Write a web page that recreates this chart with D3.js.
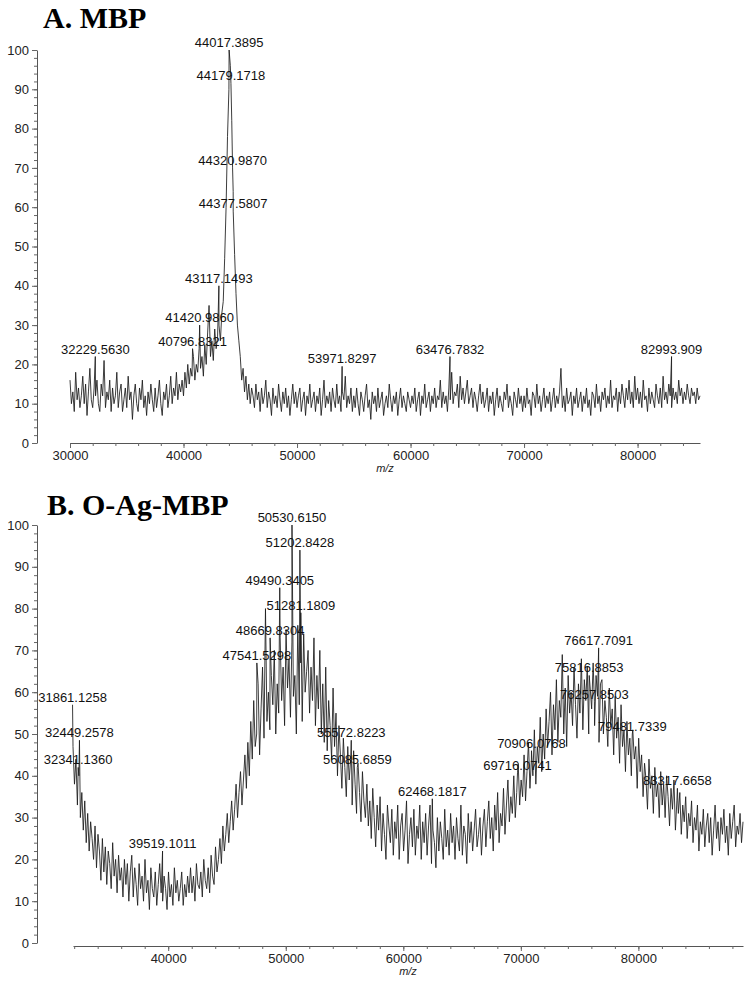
<!DOCTYPE html>
<html>
<head>
<meta charset="utf-8">
<script src="https://cdn.jsdelivr.net/npm/d3@7"></script>
<style>
body { margin: 0; background: #fff; }
text { font-family: "Liberation Sans", Arial, sans-serif; }
</style>
</head>
<body>
<svg id="chart" width="754" height="987"></svg>
<script>
// Panel A (MBP): intensity, one value every 125 m/z from 30000
var mzStartA = 30000, mzStepA = 125;
var intensityA = [
    16, 10, 13, 8, 18, 11, 14, 9, 12, 17, 10, 15, 7, 13, 19, 11, 9, 14, 12, 16,
    10, 8, 15, 12, 21, 9, 13, 11, 16, 8, 14, 10, 12, 18, 9, 13, 15, 8, 11, 14,
    9, 17, 11, 13, 6, 12, 15, 10, 8, 14, 11, 16, 9, 12, 7, 13, 10, 15, 11, 8,
    14, 9, 12, 16, 10, 7, 13, 11, 15, 9, 12, 17, 10, 14, 12, 18, 11, 15, 13, 16,
    12, 18, 14, 20, 15, 19, 17, 22, 16, 20, 18, 24, 19, 22, 17, 25, 20, 28, 35, 22,
    26, 21, 29, 24, 27, 30, 26, 33, 36, 47, 60, 78, 90, 96, 82, 64, 48, 38, 30, 26,
    22, 16, 19, 13, 17, 11, 15, 10, 14, 12, 9, 15, 11, 13, 8, 14, 10, 12, 16, 9,
    13, 11, 7, 14, 10, 12, 9, 15, 11, 8, 13, 10, 14, 9, 12, 7, 11, 15, 10, 13,
    9, 12, 14, 8, 11, 13, 7, 12, 10, 15, 9, 11, 13, 8, 12, 10, 14, 7, 11, 16,
    9, 12, 10, 13, 8, 14, 11, 9, 15, 10, 12, 8, 13, 11, 17, 9, 12, 10, 14, 8,
    12, 9, 14, 10, 7, 13, 11, 8, 12, 15, 9, 11, 6, 13, 10, 12, 8, 14, 9, 11,
    13, 7, 10, 12, 9, 15, 11, 8, 12, 10, 13, 7, 11, 14, 9, 12, 10, 8, 13, 11,
    9, 12, 10, 14, 8, 11, 13, 7, 12, 10, 15, 9, 11, 13, 8, 12, 10, 14, 9, 12,
    11, 16, 9, 13, 10, 12, 8, 14, 11, 18, 10, 13, 12, 15, 9, 17, 11, 14, 10, 13,
    16, 10, 12, 14, 9, 13, 11, 8, 12, 15, 10, 13, 9, 11, 14, 8, 12, 10, 13, 7,
    11, 14, 9, 12, 10, 8, 13, 11, 15, 9, 12, 10, 7, 13, 11, 9, 14, 10, 12, 8,
    12, 9, 14, 10, 11, 7, 13, 12, 9, 15, 10, 12, 8, 11, 14, 9, 12, 10, 13, 8,
    11, 14, 9, 12, 10, 13, 19, 9, 12, 8, 14, 10, 11, 13, 7, 12, 10, 14, 9, 11,
    13, 8, 12, 10, 14, 9, 11, 7, 13, 12, 9, 15, 10, 12, 8, 13, 11, 14, 9, 12,
    10, 16, 9, 12, 11, 14, 8, 13, 10, 15, 12, 9, 14, 11, 16, 10, 13, 9, 17, 11,
    14, 10, 13, 9, 16, 11, 12, 8, 14, 10, 13, 11, 9, 15, 12, 10, 14, 9, 17, 11,
    13, 10, 15, 12, 9, 14, 11, 13, 10, 16, 12, 14, 10, 13, 11, 15, 12, 10, 14, 12,
    13, 10, 14, 11, 12
];
var peakLabelsA = ["44017.3895", "44179.1718", "44320.9870", "44377.5807", "43117.1493",
    "41420.9860", "40796.8321", "32229.5630", "53971.8297", "63476.7832", "82993.909"];
var peakHeightsA = [100, 91.5, 70, 59, 40, 30, 24, 22, 19.5, 22, 22];
var xTicksA = [30000, 40000, 50000, 60000, 70000, 80000];

// Panel B (O-Ag-MBP): one value every 125 m/z from 31900
var mzStartB = 31900, mzStepB = 125;
var intensityB = [
    47, 38, 44, 33, 40, 30, 36, 27, 34, 24, 31, 22, 29, 25, 20, 28, 18, 26, 22, 15,
    25, 17, 23, 14, 22, 19, 13, 24, 16, 20, 12, 21, 15, 18, 11, 20, 14, 19, 10, 17,
    21, 11, 18, 14, 9, 19, 13, 16, 10, 20, 12, 15, 8, 18, 13, 11, 17, 9, 14, 19,
    12, 10, 16, 13, 8, 17, 11, 14, 9, 18, 12, 15, 10, 13, 17, 9, 14, 11, 16, 12,
    18, 12, 16, 10, 19, 14, 13, 17, 11, 20, 15, 13, 18, 12, 21, 16, 14, 23, 17, 20,
    25, 19, 28, 22, 26, 31, 24, 29, 34, 27, 32, 38, 30, 36, 41, 33, 39, 45, 37, 48,
    40, 53, 44, 58, 47, 50, 62, 45, 56, 66, 49, 80, 53, 60, 51, 64, 57, 70, 50, 62,
    55, 73, 58, 66, 52, 75, 61, 68, 54, 72, 59, 64, 50, 76, 57, 67, 53, 74, 60, 65,
    70, 55, 66, 58, 73, 52, 64, 56, 70, 50, 62, 48, 66, 46, 58, 52, 44, 61, 47, 55,
    40, 52, 45, 37, 49, 42, 35, 47, 39, 44, 33, 46, 38, 31, 43, 36, 29, 41, 34, 30,
    38, 28, 34, 25, 37, 30, 23, 33, 27, 35, 22, 31, 26, 20, 33, 28, 24, 32, 21, 29,
    25, 33, 20, 28, 31, 22, 27, 34, 19, 26, 30, 23, 32, 21, 28, 25, 33, 20, 29, 24,
    31, 21, 28, 33, 19, 27, 24, 18, 30, 22, 29, 25, 20, 32, 23, 27, 21, 31, 24, 28,
    20, 30, 25, 22, 33, 21, 28, 26, 19, 31, 24, 29, 22, 27, 32, 23, 26, 30, 21, 28,
    32, 23, 29, 34, 25, 30, 22, 33, 27, 36, 24, 31, 28, 37, 26, 33, 39, 29, 35, 31,
    40, 30, 36, 43, 33, 39, 35, 45, 34, 41, 48, 37, 44, 40, 51, 38, 47, 43, 54, 41,
    50, 44, 56, 47, 53, 60, 45, 57, 51, 63, 48, 58, 54, 69, 50, 61, 47, 64, 55, 60,
    52, 66, 57, 49, 62, 55, 68, 51, 63, 58, 66, 50, 61, 56, 67, 52, 64, 59, 48, 62,
    63, 50, 58, 54, 47, 61, 52, 56, 45, 59, 49, 54, 43, 57, 47, 51, 41, 53, 45, 49,
    40, 51, 44, 47, 37, 49, 41, 45, 35, 43, 39, 32, 44, 37, 40, 31, 42, 35, 38, 30,
    41, 33, 38, 30, 40, 35, 28, 37, 32, 39, 27, 34, 31, 36, 26, 33, 29, 35, 25, 31,
    28, 34, 24, 30, 27, 33, 22, 29, 26, 32, 23, 28, 31, 24, 30, 21, 27, 33, 25, 29,
    22, 30, 26, 32, 24, 28, 21, 31, 25, 29, 33, 23, 28, 26, 31, 24, 29
];
var peakLabelsB = ["50530.6150", "51202.8428", "49490.3405", "51281.1809", "48669.8304",
    "47541.5298", "31861.1258", "32449.2578", "32341.1360", "39519.1011", "55572.8223",
    "56085.6859", "62468.1817", "69716.0741", "70906.0768", "76617.7091", "75816.8853",
    "76257.8503", "79481.7339", "83317.6658"];
var peakHeightsB = [100, 94, 85, 79, 73, 67, 57, 48.5, 42, 22, 48.5,
    42, 34.5, 40.7, 46, 70.6, 64, 57.7, 50, 37];
var xTicksB = [40000, 50000, 60000, 70000, 80000];

var yTicks = [0, 10, 20, 30, 40, 50, 60, 70, 80, 90, 100];

var svg = d3.select("#chart");

function drawPanel(p) {
    var x = d3.scaleLinear().domain(p.xDomain).range(p.xRange);
    var y = d3.scaleLinear().domain([0, 100]).range(p.yRange);
    var g = svg.append("g");

    // trace: sampled points plus the labelled peaks, in m/z order
    var pts = p.values.map(function(v, i){ return [p.mzStart + i * p.mzStep, v]; });
    p.labels.forEach(function(l, i){ pts.push([+l, p.heights[i]]); });
    pts.sort(function(a, b){ return a[0] - b[0]; });

    g.append("path")
        .attr("d", d3.line().x(function(d){ return x(d[0]); }).y(function(d){ return y(d[1]); })(pts))
        .attr("fill", "none")
        .attr("stroke", "#1a1a1a")
        .attr("stroke-width", 0.85);

    // y axis, major + minor ticks
    g.append("g").attr("transform", "translate(" + p.yAxisX + ",0)")
        .call(d3.axisLeft(y).tickValues(yTicks).tickSize(5).tickSizeOuter(0));
    g.append("g").attr("transform", "translate(" + p.yAxisX + ",0)")
        .call(d3.axisLeft(y).tickValues(d3.range(0, 101, 2)).tickSize(3).tickFormat(""))
        .select(".domain").remove();

    // x axis
    g.append("g").attr("transform", "translate(0," + p.xAxisY + ")")
        .call(d3.axisBottom(x).tickValues(p.xTicks).tickSize(5).tickSizeOuter(0).tickFormat(d3.format("d")));
    var minor = d3.range(Math.ceil(p.xDomain[0] / 2000) * 2000, p.xDomain[1], 2000);
    g.append("g").attr("transform", "translate(0," + p.xAxisY + ")")
        .call(d3.axisBottom(x).tickValues(minor).tickSize(3).tickFormat(""))
        .select(".domain").remove();

    g.selectAll(".domain").attr("stroke", "#555");
    g.selectAll(".tick line").attr("stroke", "#666");
    g.selectAll(".tick text").attr("fill", "#222").style("font-size", "13px")
        .style("font-family", "'Liberation Sans', Arial, sans-serif");

    g.append("text")
        .attr("x", p.mzX).attr("y", p.xAxisY + 29)
        .attr("text-anchor", "middle")
        .style("font-size", "11px").style("font-style", "italic")
        .attr("fill", "#222")
        .text("m/z");

    // peak labels
    g.selectAll(".pk").data(p.labels).enter().append("text")
        .attr("x", function(d){ return x(+d); })
        .attr("y", function(d, i){ return y(p.heights[i]) - 3; })
        .attr("text-anchor", "middle")
        .style("font-size", "13px")
        .attr("fill", "#111")
        .text(function(d){ return d; });

    svg.append("text")
        .attr("x", p.titleX).attr("y", p.titleY)
        .style("font-family", "'Liberation Serif', 'Times New Roman', serif")
        .style("font-weight", "bold")
        .style("font-size", "30px")
        .attr("fill", "#000")
        .text(p.title);
}

drawPanel({
    title: "A. MBP", titleX: 43, titleY: 28,
    values: intensityA, mzStart: mzStartA, mzStep: mzStepA,
    labels: peakLabelsA, heights: peakHeightsA, xTicks: xTicksA,
    xDomain: [30000, 85500], xRange: [70, 700],
    yRange: [443, 50], yAxisX: 37, xAxisY: 443, mzX: 385
});

drawPanel({
    title: "B. O-Ag-MBP", titleX: 47, titleY: 515,
    values: intensityB, mzStart: mzStartB, mzStep: mzStepB,
    labels: peakLabelsB, heights: peakHeightsB, xTicks: xTicksB,
    xDomain: [31900, 88900], xRange: [73, 743],
    yRange: [943, 525], yAxisX: 37, xAxisY: 946, mzX: 408
});
</script>
</body>
</html>
